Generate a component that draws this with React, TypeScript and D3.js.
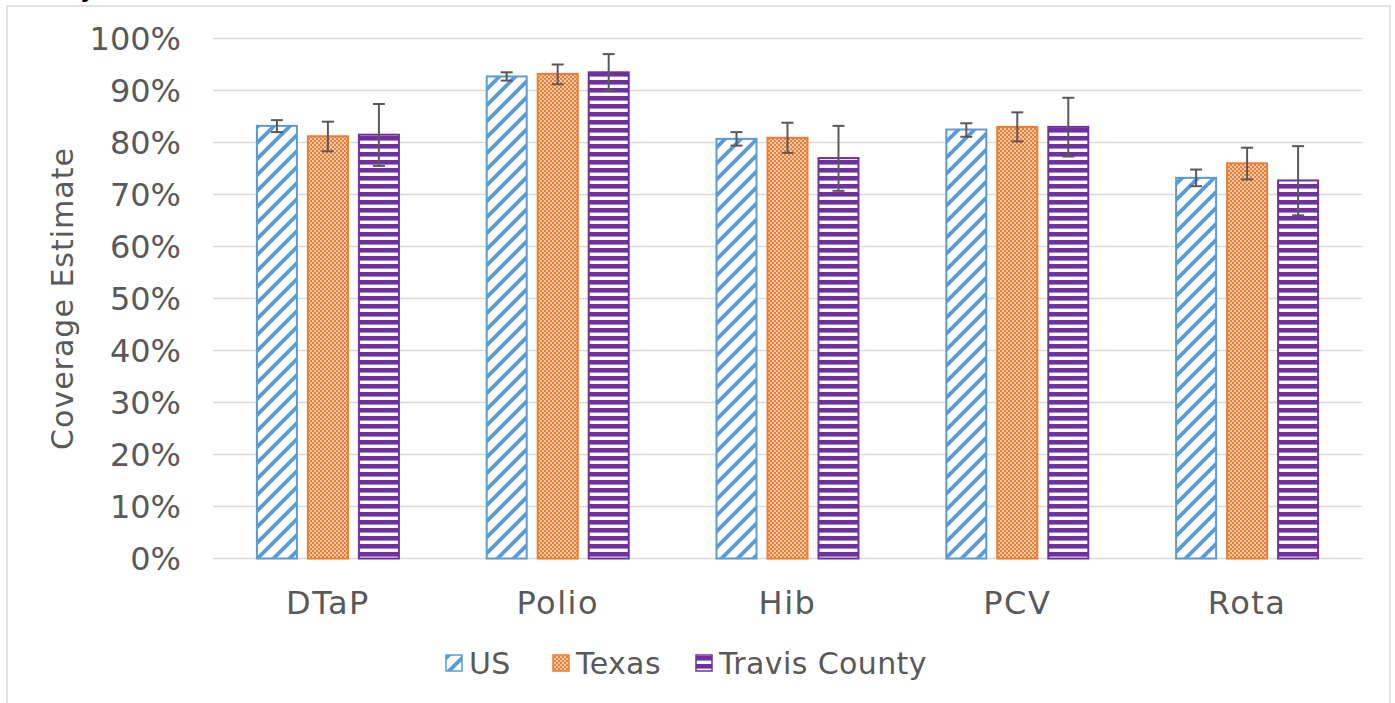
import React from "react";
import * as d3 from "d3";

const categories = ["DTaP", "Polio", "Hib", "PCV", "Rota"];
const seriesNames = ["US", "Texas", "Travis County"];
const usValues = [83.2, 92.7, 80.7, 82.5, 73.2];
const usLow = [82.0, 91.9, 79.4, 81.1, 71.6];
const usHigh = [84.3, 93.5, 82.0, 83.7, 74.8];
const texasValues = [81.2, 93.2, 80.9, 83.0, 76.0];
const texasLow = [78.3, 91.2, 78.0, 80.2, 72.9];
const texasHigh = [84.0, 95.0, 83.8, 85.8, 79.0];
const travisValues = [81.5, 93.5, 77.0, 83.0, 72.7];
const travisLow = [75.5, 90.0, 70.7, 77.3, 66.0];
const travisHigh = [87.4, 97.0, 83.2, 88.6, 79.3];
const yTicks = [0, 10, 20, 30, 40, 50, 60, 70, 80, 90, 100];
const yTitle = "Coverage Estimate";

const colors = ["#5b9bd5", "#ed7d31", "#7030a0"];
const patternIds = ["patUS", "patTX", "patTC"];

const W = 1395;
const H = 703;
const plotLeft = 213;
const plotRight = 1362;
const plotTop = 38.5;
const plotBottom = 558.5;
const font = "'DejaVu Sans', Verdana, sans-serif";
const textColor = "#595959";

export default function App() {
  const x = d3.scaleBand<string>().domain(categories).range([plotLeft, plotRight]).padding(0);
  const groupW = 144;
  const xs = d3
    .scaleBand<string>()
    .domain(seriesNames)
    .range([(x.bandwidth() - groupW) / 2, (x.bandwidth() + groupW) / 2])
    .paddingInner(0.1765)
    .paddingOuter(0);
  const y = d3.scaleLinear().domain([0, 100]).range([plotBottom, plotTop]);

  const series = [
    { name: seriesNames[0], v: usValues, lo: usLow, hi: usHigh },
    { name: seriesNames[1], v: texasValues, lo: texasLow, hi: texasHigh },
    { name: seriesNames[2], v: travisValues, lo: travisLow, hi: travisHigh },
  ];

  const legendX = [445, 552, 695];
  const legendY = 663;

  return (
    <svg
      width={W}
      height={H}
      style={{ position: "absolute", left: 0, top: 0, background: "#fff" }}
    >
      <defs>
        <pattern id="patUS" patternUnits="userSpaceOnUse" width={16} height={16}>
          <rect width={16} height={16} fill="#fff" />
          <line x1={0} y1={16} x2={16} y2={0} stroke={colors[0]} strokeWidth={3.8} />
          <line x1={-4} y1={4} x2={4} y2={-4} stroke={colors[0]} strokeWidth={3.8} />
          <line x1={12} y1={20} x2={20} y2={12} stroke={colors[0]} strokeWidth={3.8} />
        </pattern>
        <pattern id="patTX" patternUnits="userSpaceOnUse" width={4} height={4}>
          <rect width={4} height={4} fill={colors[1]} />
          <rect x={0} y={0} width={2} height={2} fill="#fff" fillOpacity={0.6} />
          <rect x={2} y={2} width={2} height={2} fill="#fff" fillOpacity={0.6} />
        </pattern>
        <pattern id="patTC" patternUnits="userSpaceOnUse" width={8} height={8}>
          <rect width={8} height={8} fill="#fff" />
          <rect x={0} y={0} width={8} height={4.6} fill={colors[2]} />
        </pattern>
      </defs>

      <text x={80} y={-4} fontFamily={font} fontSize={30} fill="#000">
        y,
      </text>

      <rect x={7} y={6} width={1383} height={710} fill="none" stroke="#d9d9d9" strokeWidth={1.5} />

      {yTicks.map((t) => (
        <g key={t}>
          <line x1={plotLeft} x2={plotRight} y1={y(t)} y2={y(t)} stroke="#d9d9d9" strokeWidth={1.5} />
          <text
            x={181}
            y={y(t)}
            dy="0.36em"
            textAnchor="end"
            fontFamily={font}
            fontSize={32}
            fill={textColor}
          >
            {t}%
          </text>
        </g>
      ))}

      <text
        transform={`translate(62,${(plotTop + plotBottom) / 2}) rotate(-90)`}
        textAnchor="middle"
        dy="0.36em"
        fontFamily={font}
        fontSize={30}
        letterSpacing={1}
        fill={textColor}
      >
        {yTitle}
      </text>

      {categories.map((c) => (
        <text
          key={c}
          x={(x(c) ?? 0) + x.bandwidth() / 2}
          y={614}
          textAnchor="middle"
          fontFamily={font}
          fontSize={32}
          letterSpacing={1.5}
          fill={textColor}
        >
          {c}
        </text>
      ))}

      {series.map((s, si) =>
        categories.map((c, ci) => {
          const bx = (x(c) ?? 0) + (xs(s.name) ?? 0);
          const bw = xs.bandwidth();
          const top = y(s.v[ci]);
          return (
            <rect
              key={`${si}-${ci}`}
              x={bx + 1}
              y={top}
              width={bw - 2}
              height={plotBottom - top}
              fill={`url(#${patternIds[si]})`}
              stroke={colors[si]}
              strokeWidth={2}
            />
          );
        })
      )}

      {series.map((s, si) =>
        categories.map((c, ci) => {
          const cx = (x(c) ?? 0) + (xs(s.name) ?? 0) + xs.bandwidth() / 2;
          const y1 = y(s.hi[ci]);
          const y2 = y(s.lo[ci]);
          return (
            <g key={`e${si}-${ci}`} stroke="#595959" strokeWidth={2}>
              <line x1={cx} x2={cx} y1={y1} y2={y2} />
              <line x1={cx - 6} x2={cx + 6} y1={y1} y2={y1} />
              <line x1={cx - 6} x2={cx + 6} y1={y2} y2={y2} />
            </g>
          );
        })
      )}

      {seriesNames.map((n, i) => (
        <g key={n}>
          <rect
            x={legendX[i] + 1}
            y={legendY - 8}
            width={16}
            height={16}
            fill={`url(#${patternIds[i]})`}
            stroke={colors[i]}
            strokeWidth={1.5}
          />
          <text
            x={legendX[i] + 24}
            y={legendY}
            dy="0.36em"
            fontFamily={font}
            fontSize={30}
            letterSpacing={0.4}
            fill={textColor}
          >
            {n}
          </text>
        </g>
      ))}
    </svg>
  );
}
